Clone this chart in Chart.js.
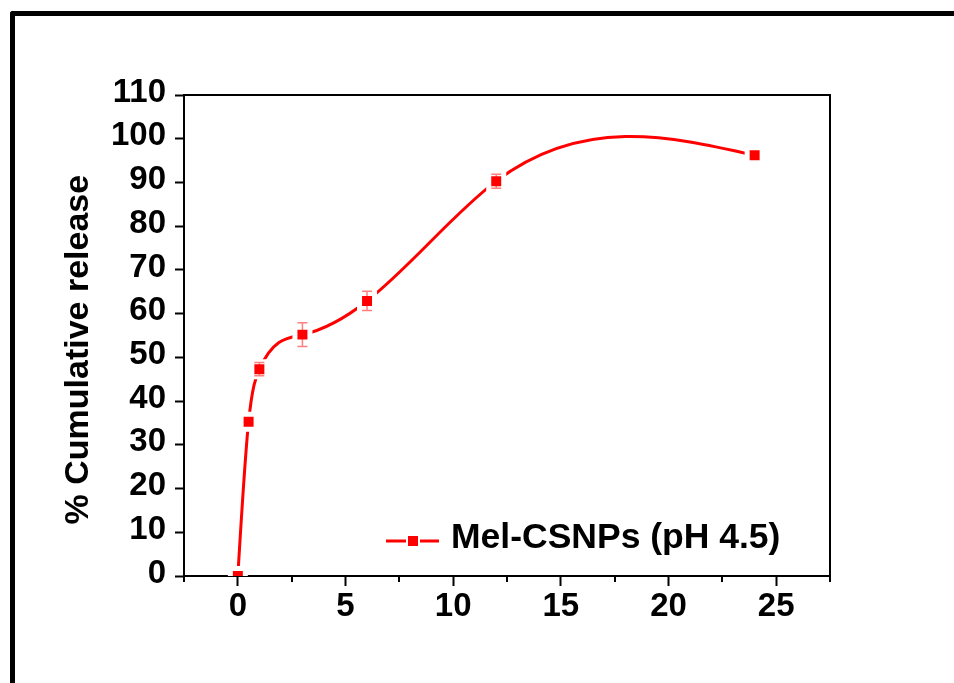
<!DOCTYPE html>
<html>
<head>
<meta charset="utf-8">
<script src="https://cdn.jsdelivr.net/npm/chart.js@4.4.0/dist/chart.umd.min.js"></script>
<style>
  html, body { margin: 0; padding: 0; background: #fff; }
  #wrap { position: relative; width: 954px; height: 683px; overflow: hidden; }
  #frame { position: absolute; left: 10px; top: 11px; right: -20px; bottom: -20px;
           border-top: 5px solid #000; border-left: 5px solid #000; border-top-left-radius: 3px; }
  #c { position: absolute; left: 0; top: 0; }
</style>
</head>
<body>
<div id="wrap">
  <div id="frame"></div>
  <canvas id="c" width="954" height="683"></canvas>
</div>
<script>
// data
const timeHours  = [0, 0.5, 1, 3, 6, 12, 24];
const releasePct = [0, 35.3, 47.3, 55.2, 62.9, 90.3, 96.2];
const releaseErr = [0, 0, 1.5, 2.7, 2.2, 1.6, 0];
const seriesLabel = 'Mel-CSNPs (pH 4.5)';
const yTitle = '% Cumulative release';

const FONT = "'Liberation Sans', Arial, sans-serif";
const RED = '#ff0000';

// smooth curve through the points (natural cubic spline, as in Origin)
const splineCurve = {
  id: 'splineCurve',
  beforeDatasetDraw(chart, args) {
    const meta = args.meta;
    const line = meta.dataset;
    if (!line) return;
    line.updateControlPoints(chart.chartArea, 'x');
    const p = meta.data;
    const n = p.length;
    const h = [], d = [];
    for (let i = 0; i < n - 1; i++) {
      h[i] = p[i + 1].x - p[i].x;
      d[i] = (p[i + 1].y - p[i].y) / h[i];
    }
    const M = new Array(n).fill(0);
    const a = [], b = [], c = [], r = [];
    for (let i = 1; i < n - 1; i++) {
      a[i] = h[i - 1]; b[i] = 2 * (h[i - 1] + h[i]); c[i] = h[i];
      r[i] = 6 * (d[i] - d[i - 1]);
    }
    for (let i = 2; i < n - 1; i++) {
      const w = a[i] / b[i - 1];
      b[i] -= w * c[i - 1];
      r[i] -= w * r[i - 1];
    }
    for (let i = n - 2; i >= 1; i--) {
      M[i] = (r[i] - (i < n - 2 ? c[i] * M[i + 1] : 0)) / b[i];
    }
    const slope = i => i < n - 1
      ? d[i] - h[i] * (2 * M[i] + M[i + 1]) / 6
      : d[n - 2] + h[n - 2] * (M[n - 2] + 2 * M[n - 1]) / 6;
    for (let i = 0; i < n; i++) {
      const s = slope(i);
      if (i > 0) { p[i].cp1x = p[i].x - h[i - 1] / 3; p[i].cp1y = p[i].y - s * h[i - 1] / 3; }
      if (i < n - 1) { p[i].cp2x = p[i].x + h[i] / 3; p[i].cp2y = p[i].y + s * h[i] / 3; }
    }
    line._path = undefined;
  }
};

const errorBars = {
  id: 'errorBars',
  afterDatasetsDraw(chart) {
    const { ctx, scales: { x, y } } = chart;
    ctx.save();
    ctx.strokeStyle = 'rgba(255,0,0,0.5)';
    ctx.lineWidth = 1.5;
    timeHours.forEach((t, i) => {
      const e = releaseErr[i];
      if (!e) return;
      const px = x.getPixelForValue(t);
      const y1 = y.getPixelForValue(releasePct[i] + e);
      const y2 = y.getPixelForValue(releasePct[i] - e);
      ctx.beginPath();
      ctx.moveTo(px, y1); ctx.lineTo(px, y2);
      ctx.moveTo(px - 5, y1); ctx.lineTo(px + 5, y1);
      ctx.moveTo(px - 5, y2); ctx.lineTo(px + 5, y2);
      ctx.stroke();
    });
    ctx.restore();
  }
};

// box, minor ticks and the in-plot legend
const decorations = {
  id: 'decorations',
  afterDraw(chart) {
    const { ctx, chartArea: a, scales: { x } } = chart;
    ctx.save();
    ctx.strokeStyle = '#000';
    ctx.lineWidth = 2;
    ctx.beginPath();
    ctx.moveTo(a.left, a.top); ctx.lineTo(a.right, a.top); ctx.lineTo(a.right, a.bottom);
    ctx.stroke();

    x.ticks.forEach(t => {
      if (t.value % 5 === 0) return;
      const px = Math.round(x.getPixelForValue(t.value));
      ctx.beginPath();
      ctx.moveTo(px, a.bottom); ctx.lineTo(px, a.bottom + 6);
      ctx.stroke();
    });

    // legend
    const lx = a.left + 202, ly = a.bottom - 35;
    ctx.strokeStyle = RED;
    ctx.lineWidth = 3;
    ctx.beginPath();
    ctx.moveTo(lx, ly); ctx.lineTo(lx + 53, ly);
    ctx.stroke();
    ctx.fillStyle = '#fff';
    ctx.fillRect(lx + 20, ly - 7, 14, 14);
    ctx.fillStyle = RED;
    ctx.fillRect(lx + 22, ly - 5, 10, 10);
    ctx.fillStyle = '#000';
    ctx.font = 'bold 35.5px ' + FONT;
    ctx.textBaseline = 'alphabetic';
    ctx.textAlign = 'left';
    ctx.fillText(seriesLabel, lx + 65, ly + 7);
    ctx.restore();
  }
};

new Chart(document.getElementById('c'), {
  type: 'line',
  data: {
    datasets: [{
      label: seriesLabel,
      data: timeHours.map((t, i) => ({ x: t, y: releasePct[i] })),
      borderColor: RED,
      borderWidth: 3,
      tension: 0.4,
      pointStyle: 'rect',
      pointRadius: 10.6,
      pointBackgroundColor: RED,
      pointBorderColor: '#fff',
      pointBorderWidth: 5,
      clip: 0
    }]
  },
  options: {
    responsive: false,
    devicePixelRatio: 1,
    animation: false,
    events: [],
    layout: { padding: { top: 95, right: 124, left: 0, bottom: 0 } },
    plugins: { legend: { display: false }, tooltip: { enabled: false } },
    scales: {
      x: {
        type: 'linear',
        min: -2.5, max: 27.5,
        border: { color: '#000', width: 2 },
        grid: {
          drawOnChartArea: false, tickLength: 10, tickWidth: 2,
          tickColor: c => (c.tick && c.tick.value % 5 === 0) ? '#000' : 'transparent'
        },
        ticks: {
          stepSize: 2.5, autoSkip: false, maxRotation: 0, padding: 1,
          color: '#000', font: { family: FONT, size: 33, weight: 'bold' },
          callback: v => (v % 5 === 0 ? v : '')
        },
        afterFit: s => { s.height = 107; }
      },
      y: {
        min: 0, max: 110,
        border: { color: '#000', width: 2 },
        grid: { drawOnChartArea: false, tickLength: 9, tickWidth: 2, tickColor: '#000' },
        ticks: {
          stepSize: 10, padding: 9, labelOffset: -2.5,
          color: '#000', font: { family: FONT, size: 33, weight: 'bold' }
        },
        title: {
          display: true, text: yTitle + '   ', color: '#000',
          font: { family: FONT, size: 34, weight: 'bold' },
          padding: { top: 58.6, bottom: 0 }
        },
        afterFit: s => { s.width = 184; }
      }
    }
  },
  plugins: [splineCurve, errorBars, decorations]
});
</script>
</body>
</html>
